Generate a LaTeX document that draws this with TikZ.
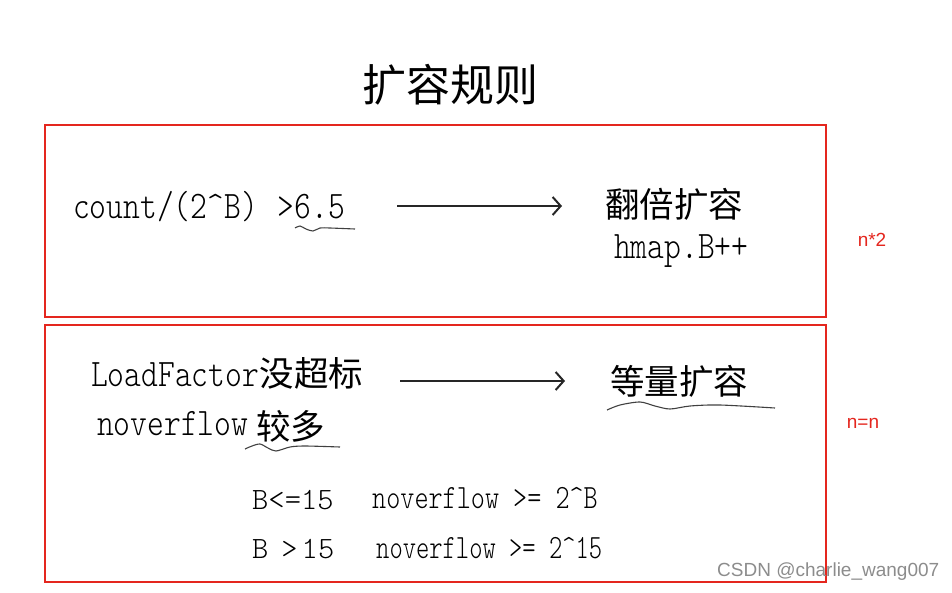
\documentclass[tikz,border=0pt]{standalone}
\usepackage{fontspec}
\usepackage{graphicx}
\usetikzlibrary{arrows.meta}
\newfontfamily\cjk{Noto Sans CJK SC}
\newfontfamily\wmfont{Liberation Sans}
\newfontfamily\lmlight{Latin Modern Mono Light}
\definecolor{boxred}{RGB}{228,38,30}
\newcommand{\narrowtxt}[2]{\scalebox{#1}[1]{#2}}
\begin{document}
\begin{tikzpicture}[x=1pt,y=-1pt,
  box/.style={draw=boxred,line width=2pt},
  latin/.style={anchor=base west,inner sep=0pt,font=\fontsize{39}{39}\selectfont\lmlight},
  latmid/.style={anchor=base west,inner sep=0pt,font=\fontsize{34}{34}\selectfont\lmlight},
  latb/.style={anchor=base west,inner sep=0pt,font=\fontsize{31}{31}\selectfont\lmlight},
  zh/.style={anchor=west,inner sep=0pt,font=\fontsize{34.5}{34.5}\selectfont\cjk},
  arr/.style={-{Straight Barb[length=8pt,width=18pt,line width=2pt]},line width=2pt,draw=black!85},
  wavy/.style={draw=black!75,line width=1.1pt},
  side/.style={text=boxred,font=\fontsize{19}{19}\selectfont\wmfont,inner sep=0pt}]
\useasboundingbox (0,0) rectangle (952,592);
% title
\node[anchor=center,inner sep=0pt,font=\fontsize{44}{44}\selectfont\cjk] (title) at (450,85) {扩容规则};
% boxes
\draw[box] (45,125) rectangle (826,317);
\draw[box] (45,325) rectangle (826,582);
% row 1
\node[latin] (cond1) at (73,218) {\narrowtxt{0.82}{count/(2\^{}B)\hspace{4pt} >6.5}};
\coordinate (a1s) at (397,206);
\coordinate (a1e) at (562,206);
\draw[arr] (a1s) -- (a1e);
\node[zh] (res1) at (605,204) {翻倍扩容};
\node[latin] (hmap) at (614,258) {\narrowtxt{0.82}{hmap.B++}};
\draw[wavy] plot[smooth] coordinates {(295,228) (300,226) (306,229) (313,231) (320,228) (330,228) (355,229)};
\node[side] (n2) at (872,240) {n*2};
% row 2
\node[latin] (lf) at (91,386) {\narrowtxt{0.82}{LoadFactor}};
\node[zh] (lfzh) at (lf.base east) [anchor=base west] {没超标};
\node[latin] (nov) at (97,435) {\narrowtxt{0.82}{noverflow}};
\node[zh] (novzh) at (256,426) {较多};
\draw[wavy] plot[smooth] coordinates {(245,449) (252,446) (260,444) (268,448) (276,451) (290,447) (305,446) (340,447)};
\coordinate (a2s) at (400,381);
\coordinate (a2e) at (565,381);
\draw[arr] (a2s) -- (a2e);
\node[zh] (res2) at (610,381) {等量扩容};
\draw[wavy] plot[smooth] coordinates {(607,410) (620,405) (640,402) (655,406) (670,409) (690,406) (720,405) (775,408)};
\node[side] (nn) at (863,423) {n=n};
% rows 3,4
\node[latb] (b1) at (252,509) {B<=15};
\node[latmid] (o1) at (372,508) {\narrowtxt{0.79}{noverflow >= 2\^{}B}};
\node[latb] (b2) at (252,558) {B\hspace{13pt}>\hspace{4pt}15};
\node[latmid] (o2) at (376,558) {\narrowtxt{0.745}{noverflow >= 2\^{}15}};
% watermark
\node[anchor=west,inner sep=0pt,text=black!45,font=\fontsize{19}{19}\selectfont\wmfont] (wm) at (717,572) {CSDN @charlie\_wang007};
\end{tikzpicture}
\end{document}
